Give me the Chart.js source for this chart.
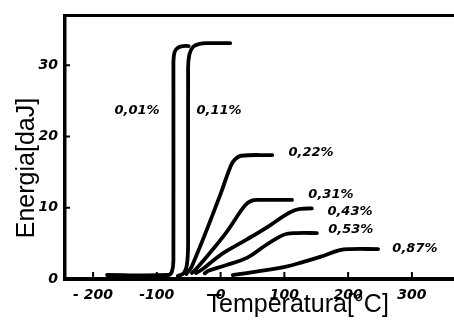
<!DOCTYPE html>
<html>
<head>
<meta charset="utf-8">
<script src="https://cdn.jsdelivr.net/npm/chart.js@4"></script>
<style>
html,body{margin:0;padding:0;background:#fff;}
#wrap{width:454px;height:327px;position:relative;}
</style>
</head>
<body>
<div id="wrap"><canvas id="c"></canvas></div>
<script>
// ---- data (temperature °C, energy daJ) ----
const seriesNames = ['0,01%','0,11%','0,22%','0,31%','0,43%','0,53%','0,87%'];

const temp001   = [-178, -82, -76.5, -74, -74, -72, -66, -58, -50];
const energy001 = [0.56, 0.56, 1.0, 2.6, 30.3, 31.9, 32.5, 32.7, 32.7];

const temp011   = [-67, -58, -53, -51, -51, -49, -43, -33, -20, 15];
const energy011 = [0.42, 0.8, 1.9, 5.0, 29.5, 31.5, 32.6, 33.0, 33.1, 33.1];

const temp022   = [-54, -45, -1, 16, 22.5, 32, 81];
const energy022 = [0.7, 1.8, 11.7, 15.9, 16.8, 17.3, 17.4];

const temp031   = [-45, -35.5, 7, 38, 49, 62, 112];
const energy031 = [0.84, 1.7, 6.3, 10.3, 11.0, 11.1, 11.1];

const temp043   = [-38.5, -28, -10, 7, 42, 77, 100, 115, 125, 143];
const energy043 = [0.84, 1.4, 2.7, 3.8, 5.6, 7.5, 8.9, 9.6, 9.85, 9.9];

const temp053   = [-25, -18, 7, 42, 70, 90, 104, 120, 151];
const energy053 = [0.8, 1.2, 1.9, 3.0, 4.7, 5.8, 6.35, 6.45, 6.45];

const temp087   = [19, 46, 101, 130, 156, 187, 203, 247];
const energy087 = [0.56, 0.9, 1.7, 2.4, 3.1, 4.05, 4.2, 4.2];

// where each curve's label sits (data units)
const labelTemp   = [-131, -2.5, 141.7, 173, 202.8, 204, 304.7];
const labelEnergy = [23.6, 23.6, 17.7, 11.9, 9.4, 7.0, 4.2];

const xTickValues = [-200, -100, 0, 100, 200, 300];
const xTickLabels = ['- 200', '-100', '0', '100', '200', '300'];
const yTickValues = [0, 10, 20, 30];

const xTitle = 'Temperatura[°C]';
const yTitle = 'Energia[daJ]';

// ---- build chart ----
const temps = [temp001, temp011, temp022, temp031, temp043, temp053, temp087];
const energies = [energy001, energy011, energy022, energy031, energy043, energy053, energy087];

const datasets = seriesNames.map((name, i) => ({
  label: name,
  data: temps[i].map((t, j) => ({x: t, y: energies[i][j]})),
  borderColor: '#000',
  borderWidth: 3.8,
  pointRadius: 0,
  tension: 0.4,
  fill: false,
  borderCapStyle: 'round',
  borderJoinStyle: 'round'
}));

const inwardTicks = {
  id: 'inwardTicks',
  afterDraw(chart) {
    const {ctx, chartArea: a, scales: {x, y}} = chart;
    ctx.save();
    ctx.strokeStyle = '#000';
    ctx.lineWidth = 2;
    x.ticks.forEach(t => {
      const px = x.getPixelForValue(t.value);
      if (px > a.left + 4 && px < a.right) {
        ctx.beginPath(); ctx.moveTo(px, a.bottom); ctx.lineTo(px, a.bottom - 7); ctx.stroke();
      }
    });
    y.ticks.forEach(t => {
      const py = y.getPixelForValue(t.value);
      if (py < a.bottom - 4) {
        ctx.beginPath(); ctx.moveTo(a.left, py); ctx.lineTo(a.left + 5, py); ctx.stroke();
      }
    });
    ctx.restore();
  }
};

const curveLabels = {
  id: 'curveLabels',
  afterDatasetsDraw(chart) {
    const {ctx, scales: {x, y}} = chart;
    ctx.save();
    ctx.fillStyle = '#000';
    ctx.font = 'italic bold 13px "DejaVu Sans"';
    ctx.textAlign = 'center';
    ctx.textBaseline = 'middle';
    seriesNames.forEach((name, i) => {
      ctx.fillText(name, x.getPixelForValue(labelTemp[i]), y.getPixelForValue(labelEnergy[i]));
    });
    ctx.restore();
  }
};

const tickFont = {family: 'DejaVu Sans', size: 14, style: 'italic', weight: 'bold'};
const titleFont = {family: 'Liberation Sans', size: 25, lineHeight: 1.2};

new Chart(document.getElementById('c'), {
  type: 'line',
  data: {datasets},
  plugins: [inwardTicks, curveLabels],
  options: {
    responsive: true,
    maintainAspectRatio: false,
    devicePixelRatio: 1,
    animation: false,
    layout: {padding: 0},
    plugins: {legend: {display: false}, tooltip: {enabled: false}},
    scales: {
      x: {
        type: 'linear',
        position: 'bottom',
        min: -244, max: 366,
        afterBuildTicks: s => { s.ticks = xTickValues.map(v => ({value: v})); },
        afterFit: s => { s.height = 48; },
        ticks: {
          autoSkip: false, maxRotation: 0, color: '#000', font: tickFont, padding: 8,
          callback: v => { const k = xTickValues.indexOf(v); return k >= 0 ? xTickLabels[k] : ''; }
        },
        grid: {display: false, drawTicks: false},
        border: {display: true, color: '#000', width: 4},
        title: {display: true, text: '           ' + xTitle, color: '#000', font: titleFont, padding: {top: 0, bottom: 7}}
      },
      x2: {
        type: 'linear',
        axis: 'x',
        position: 'top',
        min: -244, max: 366,
        afterFit: s => { s.height = 14; },
        ticks: {display: false},
        grid: {display: false, drawTicks: false},
        border: {display: true, color: '#000', width: 3}
      },
      y: {
        type: 'linear',
        min: 0, max: 37,
        afterBuildTicks: s => { s.ticks = yTickValues.map(v => ({value: v})); },
        afterFit: s => { s.width = 65; },
        ticks: {color: '#000', font: tickFont, padding: 7},
        grid: {display: false, drawTicks: false},
        border: {display: true, color: '#000', width: 3.5},
        title: {display: true, text: yTitle + '      ', color: '#000', font: titleFont, padding: {top: 12, bottom: 0}}
      }
    }
  }
});
</script>
</body>
</html>
